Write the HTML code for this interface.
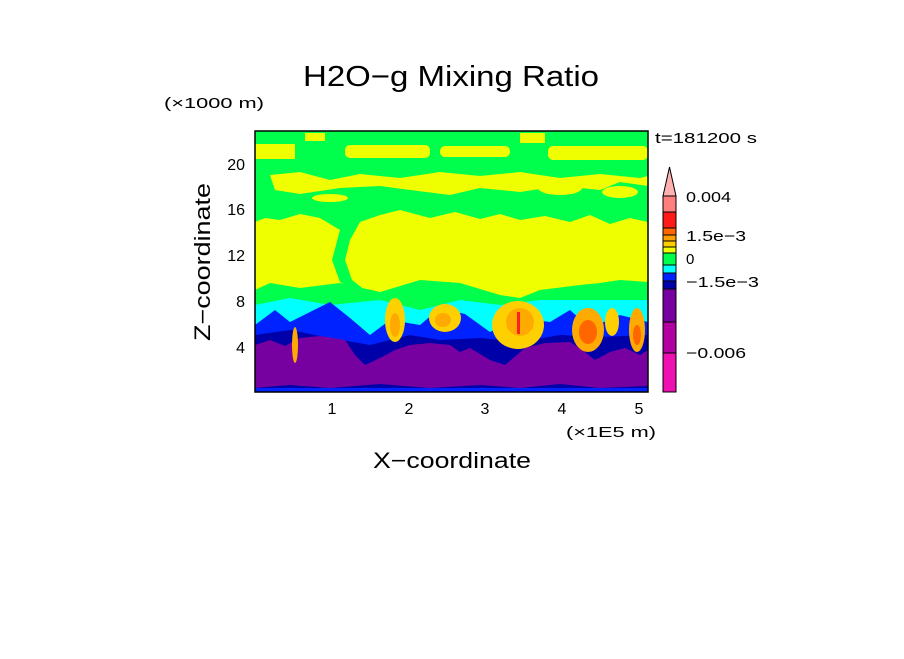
<!DOCTYPE html>
<html><head><style>
html,body{margin:0;padding:0;background:#fff;}
svg text{font-family:"Liberation Sans",sans-serif;fill:#000;}
</style></head><body>
<svg width="904" height="654" viewBox="0 0 904 654" xmlns="http://www.w3.org/2000/svg">
<rect width="904" height="654" fill="#fff"/>
<text x="451" y="86" font-size="29" text-anchor="middle" textLength="296" lengthAdjust="spacingAndGlyphs">H2O−g Mixing Ratio</text>
<text x="164" y="108" font-size="15" textLength="100" lengthAdjust="spacingAndGlyphs">(×1000 m)</text>
<defs><clipPath id="c"><rect x="255" y="131" width="393" height="261"/></clipPath></defs>
<g clip-path="url(#c)">
<rect x="255" y="131" width="393" height="261" fill="#f0ff00"/>
<path d="M255 131 H648 V222 L630 218 L610 224 L590 215 L570 222 L545 216 L520 220 L500 214 L480 219 L455 212 L430 218 L400 210 L380 215 L360 222 L350 240 L345 260 L352 280 L365 290 L360 292 L340 282 L332 260 L340 230 L320 218 L300 214 L280 220 L265 218 L255 222 Z" fill="#00ff4c"/>
<rect x="255" y="144" width="40" height="15" fill="#f0ff00"/>
<rect x="345" y="145" width="85" height="13" rx="5" fill="#f0ff00"/>
<rect x="440" y="146" width="70" height="11" rx="5" fill="#f0ff00"/>
<rect x="548" y="146" width="100" height="14" rx="5" fill="#f0ff00"/>
<rect x="305" y="133" width="20" height="8" fill="#f0ff00"/>
<rect x="520" y="133" width="25" height="10" fill="#f0ff00"/>
<path d="M270 175 L300 172 L330 180 L360 174 L400 178 L440 172 L480 176 L520 172 L560 178 L600 174 L640 178 L648 176 V186 L620 182 L600 190 L560 186 L520 192 L480 188 L450 195 L410 190 L380 186 L340 188 L300 194 L275 190 Z" fill="#f0ff00"/>
<ellipse cx="560" cy="188" rx="22" ry="7" fill="#f0ff00"/>
<ellipse cx="620" cy="192" rx="18" ry="6" fill="#f0ff00"/>
<ellipse cx="330" cy="198" rx="18" ry="4" fill="#f0ff00"/>
<path d="M255 290 L270 283 L300 288 L340 283 L380 292 L420 280 L460 283 L500 295 L520 298 L540 290 L580 285 L600 283 L620 280 L648 282 V392 H255 Z" fill="#00ff4c"/>
<path d="M255 305 L290 298 L330 305 L360 302 L380 300 L420 310 L460 300 L500 305 L540 300 L580 300 L620 300 L648 300 V392 H255 Z" fill="#00ffff"/>
<path d="M255 325 L275 310 L290 322 L310 312 L330 302 L350 318 L370 335 L390 320 L420 325 L440 308 L465 314 L490 332 L520 318 L550 322 L570 310 L590 328 L620 315 L648 322 V392 H255 Z" fill="#0022ff"/>
<path d="M255 335 L290 330 L330 338 L370 345 L410 335 L440 340 L480 338 L520 342 L560 335 L600 337 L648 335 V392 H255 Z" fill="#0000a8"/>
<path d="M255 345 L270 340 L285 346 L300 338 L320 336 L345 340 L355 355 L365 365 L380 358 L395 350 L410 345 L430 343 L450 345 L460 352 L470 348 L490 360 L505 365 L525 348 L545 343 L570 342 L585 352 L595 360 L610 352 L625 348 L640 355 L648 350 V386 L600 388 L560 384 L520 388 L480 385 L430 388 L380 384 L330 388 L290 385 L255 388 Z" fill="#7700a0"/>
<rect x="255" y="388" width="393" height="4" fill="#0022ff"/>
<ellipse cx="395" cy="320" rx="10" ry="22" fill="#ffd000"/>
<ellipse cx="395" cy="325" rx="5" ry="12" fill="#ffaa00"/>
<ellipse cx="445" cy="318" rx="16" ry="14" fill="#ffd000"/>
<ellipse cx="443" cy="320" rx="8" ry="7" fill="#ffaa00"/>
<ellipse cx="518" cy="325" rx="26" ry="24" fill="#ffd000"/>
<ellipse cx="520" cy="322" rx="14" ry="14" fill="#ffaa00"/>
<rect x="517" y="312" width="3" height="22" fill="#ff2020"/>
<ellipse cx="588" cy="330" rx="16" ry="22" fill="#ffaa00"/>
<ellipse cx="588" cy="332" rx="9" ry="12" fill="#ff6600"/>
<ellipse cx="612" cy="322" rx="7" ry="14" fill="#ffd000"/>
<ellipse cx="637" cy="330" rx="8" ry="22" fill="#ffaa00"/>
<ellipse cx="637" cy="335" rx="4" ry="10" fill="#ff6600"/>
<ellipse cx="295" cy="345" rx="3" ry="18" fill="#ffaa00"/>
</g>
<rect x="255" y="131" width="393" height="261" fill="none" stroke="#000" stroke-width="1.5"/>
<g font-size="16" text-anchor="middle">
<text x="332" y="414">1</text><text x="409" y="414">2</text><text x="485" y="414">3</text><text x="562" y="414">4</text><text x="639" y="414">5</text>
</g>
<g font-size="16" text-anchor="end">
<text x="245" y="353">4</text><text x="245" y="307">8</text><text x="245" y="261">12</text><text x="245" y="215">16</text><text x="245" y="170">20</text>
</g>
<text x="566" y="437" font-size="15" textLength="90" lengthAdjust="spacingAndGlyphs">(×1E5 m)</text>
<text x="452" y="468" font-size="22" text-anchor="middle" textLength="158" lengthAdjust="spacingAndGlyphs">X−coordinate</text>
<text transform="translate(210,262) rotate(-90)" font-size="22" text-anchor="middle" textLength="158" lengthAdjust="spacingAndGlyphs">Z−coordinate</text>
<text x="655" y="143" font-size="15" textLength="102" lengthAdjust="spacingAndGlyphs">t=181200 s</text>
<g stroke="#000" stroke-width="1">
<path d="M663 196 L669.5 167 L676 196 Z" fill="#ffb0b0"/>
<rect x="663" y="196" width="13" height="16" fill="#ff7f7f"/>
<rect x="663" y="212" width="13" height="16" fill="#ff1a1a"/>
<rect x="663" y="228" width="13" height="7" fill="#ff6600"/>
<rect x="663" y="235" width="13" height="6" fill="#ffa000"/>
<rect x="663" y="241" width="13" height="6" fill="#ffcc00"/>
<rect x="663" y="247" width="13" height="6" fill="#f0ff00"/>
<rect x="663" y="253" width="13" height="12" fill="#00ff4c"/>
<rect x="663" y="265" width="13" height="8" fill="#00ffff"/>
<rect x="663" y="273" width="13" height="8" fill="#0022ff"/>
<rect x="663" y="281" width="13" height="8" fill="#0000a8"/>
<rect x="663" y="289" width="13" height="33" fill="#7700a0"/>
<rect x="663" y="322" width="13" height="31" fill="#b000a0"/>
<rect x="663" y="353" width="13" height="39" fill="#ee10b0"/>
</g>
<g font-size="15">
<text x="686" y="202" textLength="45" lengthAdjust="spacingAndGlyphs">0.004</text>
<text x="686" y="241" textLength="60" lengthAdjust="spacingAndGlyphs">1.5e−3</text>
<text x="686" y="264">0</text>
<text x="686" y="287" textLength="73" lengthAdjust="spacingAndGlyphs">−1.5e−3</text>
<text x="686" y="358" textLength="60" lengthAdjust="spacingAndGlyphs">−0.006</text>
</g>
</svg>
</body></html>
